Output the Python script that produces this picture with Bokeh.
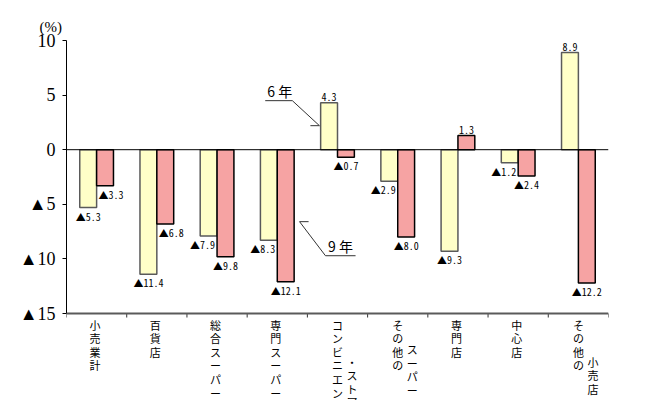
from bokeh.plotting import figure
from bokeh.models import Range1d, FixedTicker, Span, ColumnDataSource, Title
from bokeh.core.properties import value
from bokeh.embed import file_html
from bokeh.resources import INLINE

# ---- data ----
categories = ["小売業計", "百貨店", "総合スーパー", "専門スーパー",
              "コンビニエンス・ストア", "その他のスーパー", "専門店", "中心店", "その他の小売店"]
# vertical label columns for each category
category_columns = [["小売業計"], ["百貨店"], ["総合スーパー"], ["専門スーパー"],
                    ["コンビニエンス", "・ストア"], ["その他の", "スーパー"],
                    ["専門店"], ["中心店"], ["その他の", "小売店"]]
series_names = ["6 年", "9 年"]
values_y6 = [-5.3, -11.4, -7.9, -8.3, 4.3, -2.9, -9.3, -1.2, 8.9]
values_y9 = [-3.3, -6.8, -9.8, -12.1, -0.7, -8.0, 1.3, -2.4, -12.2]
y_ticks = [-15, -10, -5, 0, 5, 10]
y_tick_labels = ["▲15", "▲10", "▲5", "0", "5", "10"]
unit_label = "(%)"

# ---- layout / style (not data) ----
second_col_row = {4: 3, 5: 2, 8: 3}
BAR_W = 0.28
YELLOW = "#FFFFC8"
RED = "#F6A3A3"
PX_Y = 273 / 25.0          # pixels per y unit
PX_X = 542 / 9.0           # pixels per x unit
Y_MIN_AXIS, Y_MAX = -15, 10

n = len(categories)
centers = [i + 0.5 for i in range(n)]

p = figure(width=650, height=400, x_range=Range1d(0, n),
           y_range=Range1d(Y_MAX - 360 / PX_Y, Y_MAX),
           output_backend="svg", toolbar_location=None, x_axis_location=None,
           min_border_left=66, min_border_right=42, min_border_top=40, min_border_bottom=0)
p.outline_line_color = None
p.grid.visible = False
p.background_fill_color = "white"

# unit label as title
p.title = Title(text=unit_label, align="left", offset=-27, standoff=11,
                text_font="Liberation Serif", text_font_size="15px",
                text_font_style="normal", text_color="black")

# y axis
ya = p.yaxis[0]
ya.bounds = (Y_MIN_AXIS, Y_MAX)
ya.ticker = FixedTicker(ticks=y_ticks)
ya.major_label_overrides = {t: l for t, l in zip(y_ticks, y_tick_labels)}
ya.major_label_text_font = "Liberation Serif"
ya.major_label_text_font_size = "18px"
ya.major_label_text_color = "black"
ya.axis_line_color = "black"
ya.major_tick_out = 4
ya.major_tick_in = 0
ya.major_tick_line_color = "black"
ya.minor_tick_line_color = None
ya.major_label_standoff = 7

# category axis line and ticks at boundaries
p.add_layout(Span(location=Y_MIN_AXIS, dimension="width", line_color="#5a5a5a", line_width=2))
bounds_x = list(range(n + 1))
p.segment(x0=bounds_x, x1=bounds_x, y0=[Y_MIN_AXIS] * (n + 1),
          y1=[Y_MIN_AXIS - 4 / PX_Y] * (n + 1), line_color="#333333", line_width=1)

# bars
x6 = [c - BAR_W / 2 for c in centers]
x9 = [c + BAR_W / 2 for c in centers]
p.vbar(x=x6, top=values_y6, bottom=0, width=BAR_W, fill_color=YELLOW,
       line_color="#5a5a5a", line_width=1.5)
p.vbar(x=x9, top=values_y9, bottom=0, width=BAR_W, fill_color=RED,
       line_color="black", line_width=1.5)

p.add_layout(Span(location=0, dimension="width", line_color="black", line_width=1))

# value labels
def fmt(v):
    return f"▲{abs(v):.1f}" if v < 0 else f"{v:.1f}"

neg = dict(x=[], y=[], t=[], dx=[])
pos = dict(x=[], y=[], t=[], dx=[])
for i in range(n):
    a, b = values_y6[i], values_y9[i]
    for xv, v, other, side in ((x6[i], a, b, -1), (x9[i], b, a, 1)):
        d = neg if v < 0 else pos
        shift = 0
        if v < 0 and other < v:
            shift = 6 * side
        d["x"].append(xv)
        d["y"].append(v - 1 / PX_Y if v < 0 else v + 2 / PX_Y)
        d["t"].append(fmt(v))
        d["dx"].append(shift)

LBL_FONT = value("'Noto Sans Mono CJK JP', 'DejaVu Sans Mono', monospace")
p.text(x="x", y="y", text="t", x_offset="dx", source=ColumnDataSource(neg),
       text_font=LBL_FONT, text_font_size="10px",
       text_align="center", text_baseline="top", text_color="black")
p.text(x="x", y="y", text="t", x_offset="dx", source=ColumnDataSource(pos),
       text_font=LBL_FONT, text_font_size="10px",
       text_align="center", text_baseline="bottom", text_color="black")

# category labels (vertical, one column per text)
ROW_PX = 12.4
cx, cy, ct = [], [], []
for i, cols in enumerate(category_columns):
    for j, col in enumerate(cols):
        rows = second_col_row.get(i, 0) if j == 1 else 0
        xo = 14.5 * j if len(cols) > 1 else -1.5
        cx.append(centers[i] + xo / PX_X)
        cy.append(Y_MIN_AXIS - (3 + rows * ROW_PX) / PX_Y)
        ct.append("\n".join(col))
p.text(x=cx, y=cy, text=ct, text_font=value("Noto Sans CJK JP"), text_font_size="11px",
       text_line_height=0.85, text_align="center", text_baseline="top", text_color="black")

# series callouts
p.line(x=[3.30, 3.75, 4.20, 4.05], y=[4.49, 4.49, 2.20, 2.20], line_color="#333333", line_width=1)
p.line(x=[4.80, 4.30, 3.87, 4.02], y=[-9.71, -9.71, -6.59, -6.59], line_color="#333333", line_width=1)
p.text(x=[3.54, 4.55], y=[4.45, -9.78], text=series_names,
       text_font=value("Noto Sans CJK JP"), text_font_size="14px",
       text_align="center", text_baseline="bottom", text_color="black")

open("out.html", "w").write(file_html(p, INLINE))
